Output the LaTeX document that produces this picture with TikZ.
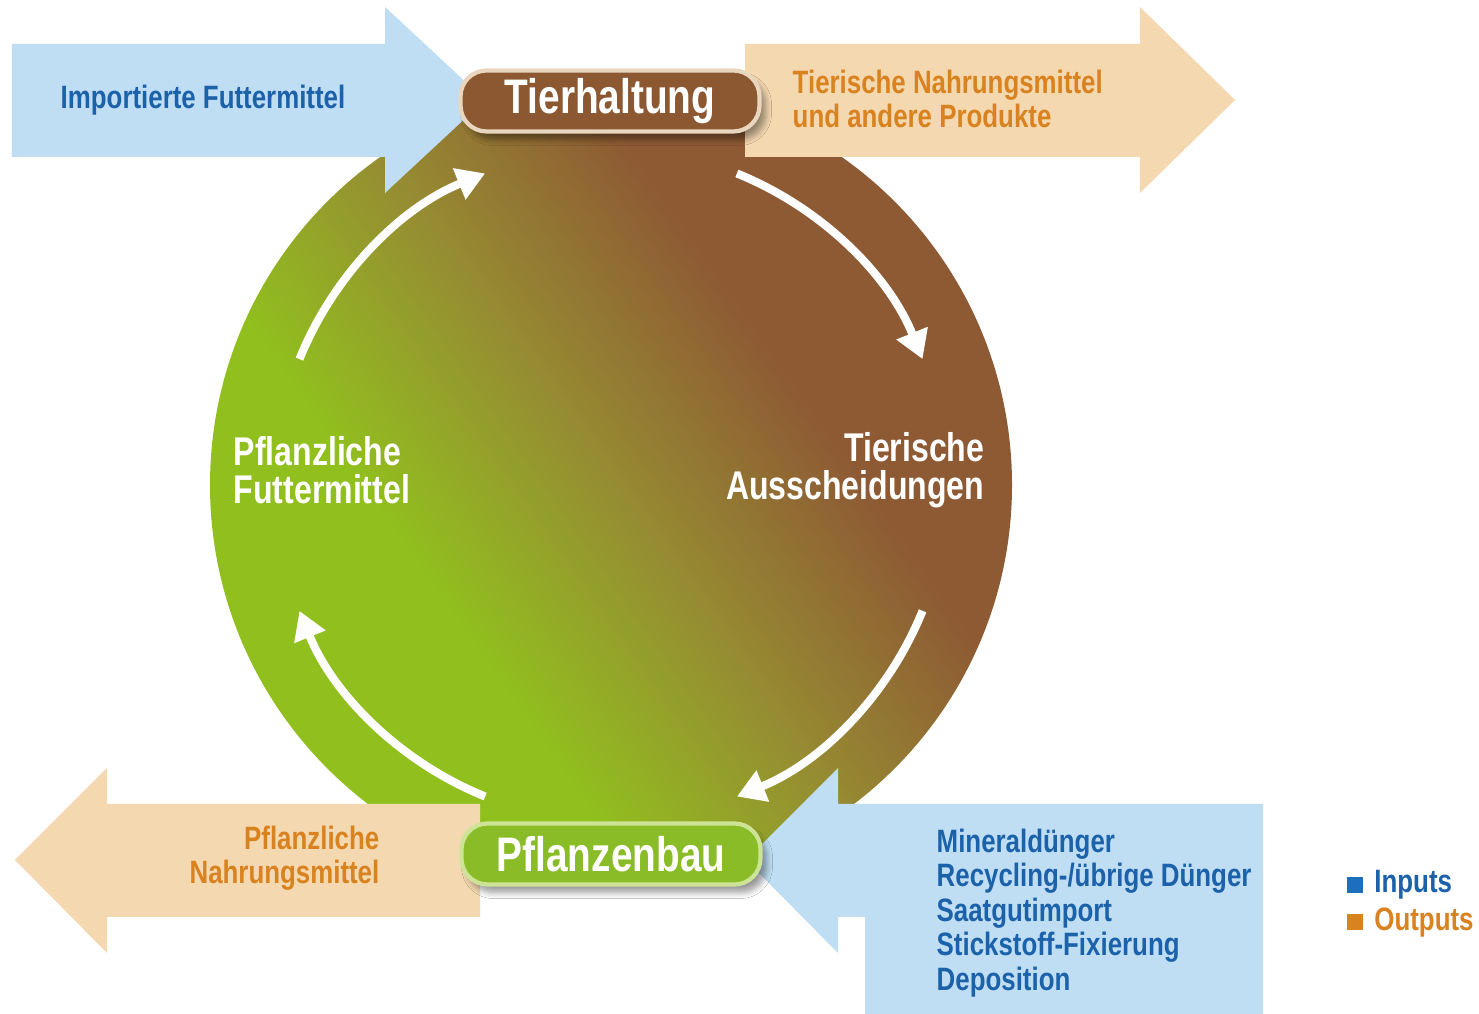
\documentclass[tikz,border=0pt]{standalone}
\usepackage{fontspec}
\newfontfamily\cond{Liberation Sans}[FakeStretch=0.8]
\usetikzlibrary{positioning,arrows.meta,shadows.blur}
\definecolor{grn}{RGB}{145,192,30}
\definecolor{olv}{RGB}{150,140,50}
\definecolor{brn}{RGB}{142,90,52}
\definecolor{inblue}{RGB}{191,222,243}
\definecolor{outpeach}{RGB}{244,216,176}
\definecolor{txtblue}{RGB}{28,98,170}
\definecolor{txtorange}{RGB}{217,130,32}
\definecolor{sqblue}{RGB}{30,110,190}
\definecolor{boxbrn}{RGB}{140,88,50}
\definecolor{boxgrn}{RGB}{138,188,40}
\definecolor{brnrim}{RGB}{232,214,190}
\definecolor{grnrim}{RGB}{205,228,150}
\pgfdeclareverticalshading{cyclefade}{100bp}{color(0bp)=(grn); color(37bp)=(grn); color(50bp)=(olv); color(63bp)=(brn); color(100bp)=(brn)}

\begin{document}
\begin{tikzpicture}[
	hub/.style={rounded corners=0.26cm, minimum width=2.99cm, minimum height=0.61cm, inner sep=0pt, line width=1.2pt, text=white, font=\cond\bfseries\fontsize{13.8}{15}\selectfont, blur shadow={shadow xshift=0.06cm, shadow yshift=-0.08cm, shadow blur steps=6}},
	cyc/.style={white, line width=2.3pt, -{Triangle[length=0.28cm, width=0.32cm]}},
	lbl/.style={inner sep=0pt, font=\cond\bfseries\fontsize{9.2}{9.8}\selectfont},
	big/.style={inner sep=0pt, text=white, font=\cond\bfseries\fontsize{11.4}{10.9}\selectfont},
	legsq/.style={minimum size=0.16cm, inner sep=0pt},
]
	\useasboundingbox (0,0) rectangle (14.79,10.14);
	\fill[white] (0,0) rectangle (14.79,10.14);

	\coordinate (c) at (6.11,5.29);
	\shade[shading=cyclefade, shading angle=-55] (c) circle[radius=4.01cm];

	% inputs and outputs
	\fill[inblue] (0.12,9.70) -- (3.85,9.70) -- (3.85,10.07) -- (4.85,9.14) -- (3.85,8.21) -- (3.85,8.57) -- (0.12,8.57) -- cycle;
	\fill[outpeach] (7.45,9.70) -- (11.40,9.70) -- (11.40,10.07) -- (12.35,9.14) -- (11.40,8.21) -- (11.40,8.57) -- (7.45,8.57) -- cycle;
	\fill[outpeach] (4.80,2.10) -- (1.07,2.10) -- (1.07,2.46) -- (0.15,1.54) -- (1.07,0.61) -- (1.07,0.97) -- (4.80,0.97) -- cycle;
	\fill[inblue] (12.63,2.10) -- (8.38,2.10) -- (8.38,2.46) -- (7.46,1.54) -- (8.38,0.61) -- (8.38,0.97) -- (8.65,0.97) -- (8.65,0) -- (12.63,0) -- cycle;

	% cycle
	\draw[cyc] ([shift={(158:3.36)}]c) arc[start angle=158, end angle=112, radius=3.36cm];
	\draw[cyc] ([shift={(68:3.36)}]c) arc[start angle=68, end angle=22, radius=3.36cm];
	\draw[cyc] ([shift={(-22:3.36)}]c) arc[start angle=-22, end angle=-68, radius=3.36cm];
	\draw[cyc] ([shift={(-112:3.36)}]c) arc[start angle=-112, end angle=-158, radius=3.36cm];

	\node[hub, fill=boxbrn, draw=brnrim] (th) at (6.10,9.13) {Tierhaltung};
	\node[hub, fill=boxgrn, draw=grnrim] (pb) at (6.11,1.60) {Pflanzenbau};

	\node[lbl, text=txtblue, anchor=west] (imp) at (0.60,9.14) {Importierte Futtermittel};
	\node[lbl, text=txtorange, anchor=west, align=left] (tn) at (7.92,9.15) {Tierische Nahrungsmittel\\und andere Produkte};
	\node[big, anchor=west, align=left] (pf) at (2.33,5.44) {Pflanzliche\\Futtermittel};
	\node[big, anchor=east, align=right] (ta) at (9.85,5.44) {Tierische\\Ausscheidungen};
	\node[lbl, text=txtorange, anchor=east, align=right] (pn) at (3.80,1.56) {Pflanzliche\\Nahrungsmittel};
	\node[lbl, text=txtblue, anchor=west, align=left] (inp) at (9.36,1.01) {Mineraldünger\\Recycling-/übrige Dünger\\Saatgutimport\\Stickstoff-Fixierung\\Deposition};

	\node[legsq, fill=sqblue] (sqi) at (13.55,1.29) {};
	\node[legsq, fill=txtorange, below=0.2cm of sqi] (sqo) {};
	\node[lbl, text=txtblue, right=0.1cm of sqi] (li) {Inputs};
	\node[lbl, text=txtorange, right=0.1cm of sqo] (lo) {Outputs};
\end{tikzpicture}
\end{document}
